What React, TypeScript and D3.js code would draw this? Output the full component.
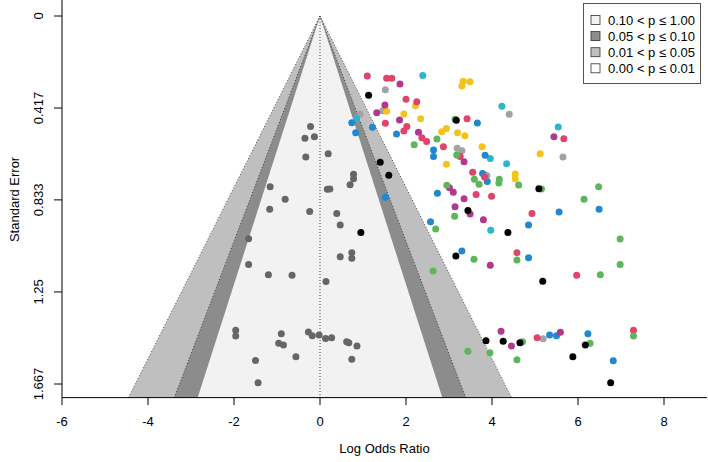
import * as d3 from "d3";

// [log odds ratio, standard error]
const nsPts = [
  [-0.22, 0.501], [-0.35, 0.554], [-0.13, 0.547], [-0.33, 0.639], [0.19, 0.624],
  [0.78, 0.717], [0.78, 0.737], [0.7, 0.764], [0.17, 0.785], [0.23, 0.784],
  [-1.16, 0.773], [-0.81, 0.83], [-1.17, 0.875], [-0.24, 0.886], [0.39, 0.895],
  [0.47, 0.947], [-1.66, 1.009], [0.47, 1.091], [0.74, 1.072], [0.74, 1.097],
  [-1.66, 1.126], [-1.2, 1.172], [-0.65, 1.174], [0.14, 1.203], [-1.96, 1.423],
  [-1.96, 1.449], [-0.9, 1.439], [-0.96, 1.482], [-0.85, 1.49], [-1.5, 1.561],
  [-1.44, 1.661], [-0.56, 1.543], [-0.27, 1.431], [-0.18, 1.448], [-0.02, 1.445],
  [0.13, 1.461], [0.27, 1.458], [0.62, 1.476], [0.67, 1.48], [0.74, 1.555], [0.86, 1.495],
];
const grayPts = [
  [1.52, 0.334], [1.46, 0.429], [0.93, 0.445], [4.4, 0.445], [3.19, 0.599],
  [3.3, 0.61], [5.65, 0.639], [3.88, 0.723], [5.19, 1.462],
];
const yellowPts = [
  [2.22, 0.406], [1.55, 0.432], [1.95, 0.444], [2.34, 0.465], [3.33, 0.296],
  [3.3, 0.317], [3.49, 0.298], [2.83, 0.524], [2.94, 0.51], [3.2, 0.529],
  [3.37, 0.543], [3.77, 0.592], [2.94, 0.672], [5.12, 0.624], [4.54, 0.716], [4.54, 0.737],
];
const cyanPts = [
  [2.39, 0.27], [0.85, 0.463], [4.23, 0.409], [3.96, 0.646], [4.34, 0.669],
  [5.54, 0.503], [3.97, 0.971],
];
const bluePts = [
  [0.74, 0.483], [0.83, 0.529], [1.22, 0.504], [1.78, 0.534], [3.66, 0.485],
  [3.84, 0.631], [3.78, 0.713], [3.89, 0.75], [6.49, 0.875], [5.56, 0.888],
  [2.64, 0.607], [2.64, 0.637], [1.52, 0.821], [2.73, 0.803], [2.57, 0.932],
  [3.3, 1.064], [4.85, 0.947], [4.85, 1.095], [5.34, 1.445], [5.5, 1.448],
  [6.23, 1.439], [6.82, 1.562],
];
const redPts = [
  [1.1, 0.272], [1.55, 0.282], [1.67, 0.282], [2.0, 0.377], [2.25, 0.388],
  [1.52, 0.486], [2.02, 0.501], [1.95, 0.521], [2.37, 0.551], [2.48, 0.569],
  [3.42, 0.465], [2.87, 0.592], [3.26, 0.637], [5.67, 0.556], [3.55, 0.708],
  [3.83, 0.731], [4.93, 0.895], [3.63, 0.809], [3.99, 0.816], [5.97, 1.174],
  [4.58, 1.072], [5.05, 1.458], [7.29, 1.423],
];
const magentaPts = [
  [1.86, 0.308], [1.51, 0.403], [1.32, 0.438], [1.85, 0.471], [2.29, 0.527],
  [3.35, 0.66], [5.44, 0.547], [3.01, 0.778], [3.1, 0.798], [3.35, 0.828],
  [3.14, 0.864], [3.49, 0.897], [3.8, 0.923], [3.96, 1.129], [4.21, 1.428],
  [4.45, 1.495], [5.59, 1.433],
];
const greenPts = [
  [2.19, 0.583], [2.72, 0.557], [3.14, 0.468], [3.18, 0.63], [3.59, 0.739],
  [3.7, 0.762], [4.17, 0.74], [4.16, 0.756], [4.62, 0.765], [5.15, 0.784],
  [6.48, 0.773], [6.14, 0.83], [2.95, 0.767], [3.13, 0.907], [2.69, 0.965],
  [3.58, 1.102], [2.63, 1.155], [6.98, 1.01], [6.98, 1.126], [6.52, 1.172],
  [4.58, 1.105], [4.71, 1.476], [3.44, 1.519], [3.95, 1.526], [4.58, 1.557],
  [6.28, 1.482], [7.29, 1.449],
];
const blackPts = [
  [1.13, 0.359], [1.4, 0.663], [1.6, 0.721], [3.17, 0.472], [5.09, 0.782],
  [3.44, 0.881], [0.95, 0.981], [3.16, 1.087], [4.37, 0.981], [5.18, 1.202],
  [3.86, 1.471], [4.26, 1.473], [4.65, 1.48], [6.17, 1.49], [5.88, 1.543], [6.76, 1.661],
];

const xTicks = [-6, -4, -2, 0, 2, 4, 6, 8];
const seTicks = [0, 0.417, 0.833, 1.25, 1.667];
const seTickLabels = ["0", "0.417", "0.833", "1.25", "1.667"];
const contourZ = [2.576, 1.96, 1.645];
const contourFill = ["#bfbfbf", "#8c8c8c", "#f2f2f2"];
const legendLabels = ["0.10 < p \u2264 1.00", "0.05 < p \u2264 0.10", "0.01 < p \u2264 0.05", "0.00 < p \u2264 0.01"];
const legendFill = ["#f2f2f2", "#8c8c8c", "#bfbfbf", "#ffffff"];

const groups = [
  { pts: nsPts, color: "#666666" },
  { pts: grayPts, color: "#a2a2a2" },
  { pts: yellowPts, color: "#f2c318" },
  { pts: cyanPts, color: "#2cb6cc" },
  { pts: bluePts, color: "#1e88d2" },
  { pts: redPts, color: "#e0446a" },
  { pts: magentaPts, color: "#b3378d" },
  { pts: greenPts, color: "#5db65a" },
  { pts: blackPts, color: "#000000" },
];

const FONT = "'Liberation Sans', Arial, Helvetica, sans-serif";

export default function App() {
  const x = d3.scaleLinear().domain([-6, 9]).range([62, 707]);
  const y = d3.scaleLinear().domain([0, 1.667]).range([16, 384]);
  const seTop = -0.0667;
  const seMax = 1.667 * 1.037;
  const yBottom = y(seMax);

  const line = d3.line<number[]>().x((d) => x(d[0])).y((d) => y(d[1]));

  return (
    <div style={{ position: "absolute", left: 0, top: 0 }}>
      <svg width={708} height={462} style={{ display: "block", fontFamily: FONT }}>
        <rect width={708} height={462} fill="#fff" />
        {/* contour funnel */}
        {contourZ.map((z, i) => (
          <path
            key={"f" + i}
            d={line([[0, 0], [-z * seMax, seMax], [z * seMax, seMax]]) + "Z"}
            fill={contourFill[i]}
          />
        ))}
        {contourZ.slice(0, 2).map((z, i) => (
          <path
            key={"l" + i}
            d={line([[-z * seMax, seMax], [0, 0], [z * seMax, seMax]]) || ""}
            fill="none"
            stroke="#222"
            strokeWidth={0.8}
            strokeDasharray="1,2"
          />
        ))}
        <path d={line([[0, 0], [0, seMax]]) || ""} stroke="#222" strokeWidth={0.8} strokeDasharray="1,2" />

        {/* studies */}
        {groups.map((g, gi) =>
          g.pts.map((p, i) => (
            <circle key={gi + "-" + i} cx={x(p[0])} cy={y(p[1])} r={3.5} fill={g.color} />
          ))
        )}

        {/* box bty="l" */}
        <line x1={x(-6)} x2={x(-6)} y1={0} y2={yBottom} stroke="#000" />
        <line x1={x(-6)} x2={x(9)} y1={yBottom} y2={yBottom} stroke="#000" />

        {/* x axis */}
        {xTicks.map((t) => (
          <g key={"xt" + t}>
            <line x1={x(t)} x2={x(t)} y1={yBottom} y2={yBottom + 7.5} stroke="#000" />
            <text x={x(t)} y={yBottom + 24} textAnchor="middle" dominantBaseline="central" fontSize={13}>
              {t}
            </text>
          </g>
        ))}
        <text x={x(1.5)} y={yBottom + 51} textAnchor="middle" dominantBaseline="central" fontSize={13}>
          Log Odds Ratio
        </text>

        {/* y axis */}
        {seTicks.map((t, i) => (
          <g key={"yt" + i}>
            <line x1={x(-6) - 8} x2={x(-6)} y1={y(t)} y2={y(t)} stroke="#000" />
            <text
              transform={`translate(${x(-6) - 23.5},${y(t)}) rotate(-90)`}
              textAnchor="middle"
              dominantBaseline="central"
              fontSize={13}
            >
              {seTickLabels[i]}
            </text>
          </g>
        ))}
        <text
          transform={`translate(14,${(y(seTop) + yBottom) / 2}) rotate(-90)`}
          textAnchor="middle"
          dominantBaseline="central"
          fontSize={13}
        >
          Standard Error
        </text>

        {/* legend */}
        <rect x={583.5} y={3.5} width={117} height={80} fill="#fff" stroke="#555" />
        {legendLabels.map((lab, i) => (
          <g key={"lg" + i} transform={`translate(0,${20 + i * 16.1})`}>
            <rect x={591} y={-4.5} width={9} height={9} fill={legendFill[i]} stroke="#333" strokeWidth={0.8} />
            <text x={608} y={0} dominantBaseline="central" fontSize={13}>
              {lab}
            </text>
          </g>
        ))}
      </svg>
    </div>
  );
}
